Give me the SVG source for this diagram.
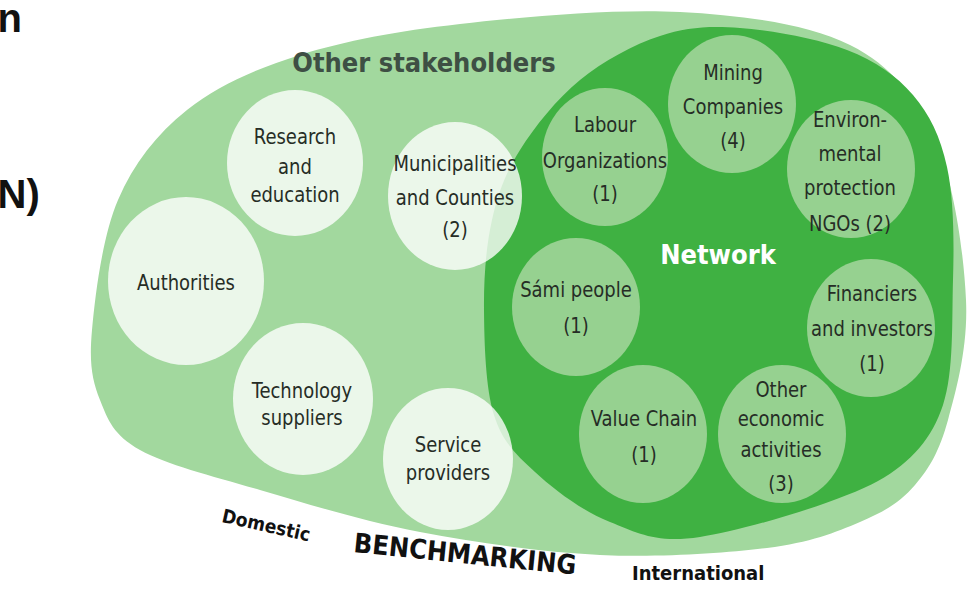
<svg xmlns="http://www.w3.org/2000/svg" width="972" height="595" viewBox="0 0 972 595">
<style>
.lbl{font-family:"DejaVu Sans Condensed","DejaVu Sans",sans-serif;font-stretch:condensed;font-size:20px;fill:#262d26;text-anchor:middle}
.bold{font-family:"DejaVu Sans Condensed","DejaVu Sans",sans-serif;font-stretch:condensed;font-weight:bold}
.wc{fill:#ffffff;fill-opacity:0.78}
.nc{fill:#96d190}
.frag{font-family:"Liberation Sans",Arial,sans-serif;font-weight:bold;font-size:40px;fill:#111}
</style>
<rect width="972" height="595" fill="#ffffff"/>
<text class="frag" x="-2.5" y="32">n</text>
<text class="frag" x="-2.5" y="208">N)</text>
<g id="other-stakeholders">
<path fill="#a2d89e" d="M92,330 C95,296.7 102.2,236.7 118,200 C133.8,163.3 156.7,134.2 187,110 C217.3,85.8 254.5,69.3 300,55 C345.5,40.7 396.7,31.2 460,24 C523.3,16.8 615,8.5 680,12 C745,15.5 807.5,23.7 850,45 C892.5,66.3 915.7,97.5 935,140 C954.3,182.5 963.8,253.3 966,300 C968.2,346.7 956.5,389.2 948,420 C939.5,450.8 929.7,468 915,485 C900.3,502 884.7,511.5 860,522 C835.3,532.5 810.3,542.5 767,548 C723.7,553.5 657.8,557.7 600,555 C542.2,552.3 476.7,542.8 420,532 C363.3,521.2 306.7,503.7 260,490 C213.3,476.3 166.7,465 140,450 C113.3,435 108,420 100,400 C92,380 89,363.3 92,330 Z"/>
<text class="bold" x="424" y="72" font-size="27" fill="#3e4f44" text-anchor="middle">Other stakeholders</text>
</g>
<g id="network">
<path fill="#3fb142" d="M484,310 C483.7,277.5 486,246.7 492,220 C498,193.3 505.3,173.3 520,150 C534.7,126.7 556.7,99 580,80 C603.3,61 633.3,44.7 660,36 C686.7,27.3 708.8,25.7 740,28 C771.2,30.3 818.2,38.8 847,50 C875.8,61.2 896.3,75.5 913,95 C929.7,114.5 940.3,136.2 947,167 C953.7,197.8 954.2,239.5 953,280 C951.8,320.5 954,372 943,405 C932,438 912,462 878,481 C840,502 744.2,530.3 700,537 C655.8,543.7 637.5,532.8 610,522 C582.5,511.2 554.3,489.8 535,472 C515.7,454.2 502.5,442 494,415 C485.5,388 484.3,342.5 484,310 Z"/>
<text class="bold" x="718" y="264" font-size="27" fill="#ffffff" text-anchor="middle">Network</text>
</g>
<g id="research">
<ellipse class="wc" cx="295" cy="163" rx="68" ry="73"/>
<g transform="matrix(1 0 0 1.08 0 -13.28)">
<text class="lbl" x="295" y="146">Research</text>
<text class="lbl" x="295" y="173">and</text>
<text class="lbl" x="295" y="199">education</text>
</g>
</g>
<g id="authorities">
<ellipse class="wc" cx="186" cy="281" rx="78" ry="84"/>
<g transform="matrix(1 0 0 1.08 0 -22.56)">
<text class="lbl" x="186" y="289">Authorities</text>
</g>
</g>
<g id="technology">
<ellipse class="wc" cx="303" cy="399" rx="70" ry="76"/>
<g transform="matrix(1 0 0 1.08 0 -32.32)">
<text class="lbl" x="302" y="398">Technology</text>
<text class="lbl" x="302" y="423">suppliers</text>
</g>
</g>
<g id="municipalities">
<ellipse class="wc" cx="455" cy="196" rx="67" ry="74"/>
<g transform="matrix(1 0 0 1.08 0 -15.76)">
<text class="lbl" x="455" y="173">Municipalities</text>
<text class="lbl" x="455" y="204">and Counties</text>
<text class="lbl" x="455" y="234">(2)</text>
</g>
</g>
<g id="service">
<ellipse class="wc" cx="448" cy="459" rx="65" ry="71"/>
<g transform="matrix(1 0 0 1.08 0 -36.64)">
<text class="lbl" x="448" y="452">Service</text>
<text class="lbl" x="448" y="478">providers</text>
</g>
</g>
<g id="labour">
<ellipse class="nc" cx="605" cy="157" rx="63" ry="69"/>
<g transform="matrix(1 0 0 1.08 0 -12.72)">
<text class="lbl" x="605" y="134">Labour</text>
<text class="lbl" x="605" y="167">Organizations</text>
<text class="lbl" x="605" y="198">(1)</text>
</g>
</g>
<g id="mining">
<ellipse class="nc" cx="732" cy="104" rx="64" ry="69"/>
<g transform="matrix(1 0 0 1.08 0 -8.48)">
<text class="lbl" x="733" y="82">Mining</text>
<text class="lbl" x="733" y="113">Companies</text>
<text class="lbl" x="733" y="145">(4)</text>
</g>
</g>
<g id="environmental">
<ellipse class="nc" cx="851" cy="169" rx="64" ry="69"/>
<g transform="matrix(1 0 0 1.08 0 -13.68)">
<text class="lbl" x="850" y="130">Environ-</text>
<text class="lbl" x="850" y="162">mental</text>
<text class="lbl" x="850" y="193">protection</text>
<text class="lbl" x="850" y="227">NGOs (2)</text>
</g>
</g>
<g id="sami">
<ellipse class="nc" cx="576" cy="307" rx="64" ry="69"/>
<g transform="matrix(1 0 0 1.08 0 -24.64)">
<text class="lbl" x="576" y="298">Sámi people</text>
<text class="lbl" x="576" y="331">(1)</text>
</g>
</g>
<g id="financiers">
<ellipse class="nc" cx="871" cy="328" rx="64" ry="69"/>
<g transform="matrix(1 0 0 1.08 0 -26.24)">
<text class="lbl" x="872" y="303">Financiers</text>
<text class="lbl" x="872" y="335">and investors</text>
<text class="lbl" x="872" y="368">(1)</text>
</g>
</g>
<g id="value-chain">
<ellipse class="nc" cx="643" cy="434" rx="64" ry="69"/>
<g transform="matrix(1 0 0 1.08 0 -34.96)">
<text class="lbl" x="644" y="427">Value Chain</text>
<text class="lbl" x="644" y="460">(1)</text>
</g>
</g>
<g id="other-economic">
<ellipse class="nc" cx="782" cy="434" rx="64" ry="69"/>
<g transform="matrix(1 0 0 1.08 0 -34.88)">
<text class="lbl" x="781" y="400">Other</text>
<text class="lbl" x="781" y="427">economic</text>
<text class="lbl" x="781" y="455">activities</text>
<text class="lbl" x="781" y="487">(3)</text>
</g>
</g>
<g id="benchmarking">
<text class="bold" font-size="19" fill="#111" transform="translate(221,522) rotate(12.5)">Domestic</text>
<text class="bold" font-size="27" fill="#111" transform="translate(353,552) rotate(5.8)">BENCHMARKING</text>
<text class="bold" font-size="20" fill="#111" x="632" y="580">International</text>
</g>
</svg>
